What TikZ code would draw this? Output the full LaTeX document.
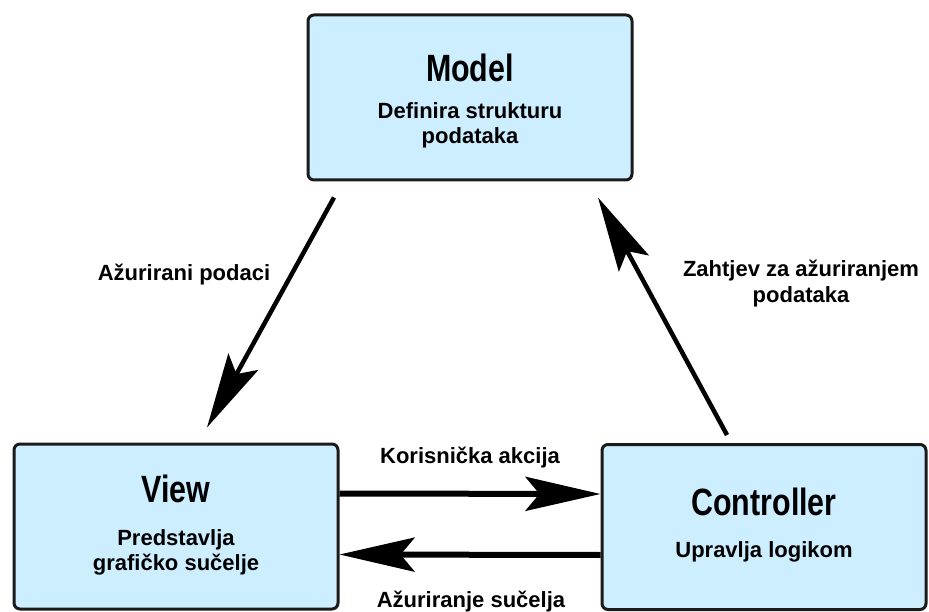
\documentclass[tikz,border=0pt]{standalone}
\usepackage{fontspec}
\setmainfont{Liberation Sans}
\newfontfamily\ttlfont[FakeStretch=0.8]{Liberation Sans}
\usetikzlibrary{arrows.meta}
\definecolor{boxblue}{RGB}{204,238,255}
\definecolor{boxline}{RGB}{26,26,26}

\begin{document}
\begin{tikzpicture}[x=1pt,y=-1pt,
        box/.style={draw=boxline,line width=3pt,rounded corners=6pt,fill=boxblue,
            minimum width=324pt,minimum height=165pt,inner sep=0pt},
        ttl/.style={anchor=base,font=\ttlfont\bfseries\fontsize{38}{38}\selectfont},
        txt/.style={anchor=base,align=center,font=\bfseries\fontsize{22}{25}\selectfont},
        arr/.style={line width=#1,-{Stealth[length=75pt,width=34pt,inset=14pt]}}]
            \useasboundingbox (0,0) rectangle (929,612);

            % boxes
            \foreach \n/\x/\y in {model/470/97.5, view/176/526.5, ctrl/764/527}
                {
                    \node[box] (\n) at (\x, \y) {};
                }

            \node[ttl] (modelT) at (470, 82) {Model};
            \node[txt] (modelD) at (470, 144) {Definira strukturu\\podataka};
            \node[ttl] (viewT) at (176, 502) {View};
            \node[txt] (viewD) at (176, 570) {Predstavlja\\grafičko sučelje};
            \node[ttl] (ctrlT) at (764, 515) {Controller};
            \node[txt] (ctrlD) at (764, 557) {Upravlja logikom};

            % labels
            \node[txt] (lupd) at (184, 281) {Ažurirani podaci};
            \node[txt] (lreq) at (801, 302) {Zahtjev za ažuriranjem\\podataka};
            \node[txt] (lact) at (470, 463) {Korisnička akcija};
            \node[txt] (lui) at (471, 607) {Ažuriranje sučelja};

            \draw[arr=4.5pt] ([xshift=-136pt,yshift=-16pt]model.south) -- ([xshift=31pt,yshift=15pt]view.north);
            \draw[arr=4.5pt] ([xshift=-37pt,yshift=8pt]ctrl.north) -- ([xshift=128pt,yshift=-16pt]model.south);
            \draw[arr=6pt] ([yshift=33pt]view.east) -- ([yshift=33pt]ctrl.west);
            \draw[arr=6pt] ([yshift=-28pt]ctrl.west) -- ([yshift=-28pt]view.east);
        \end{tikzpicture}
\end{document}
